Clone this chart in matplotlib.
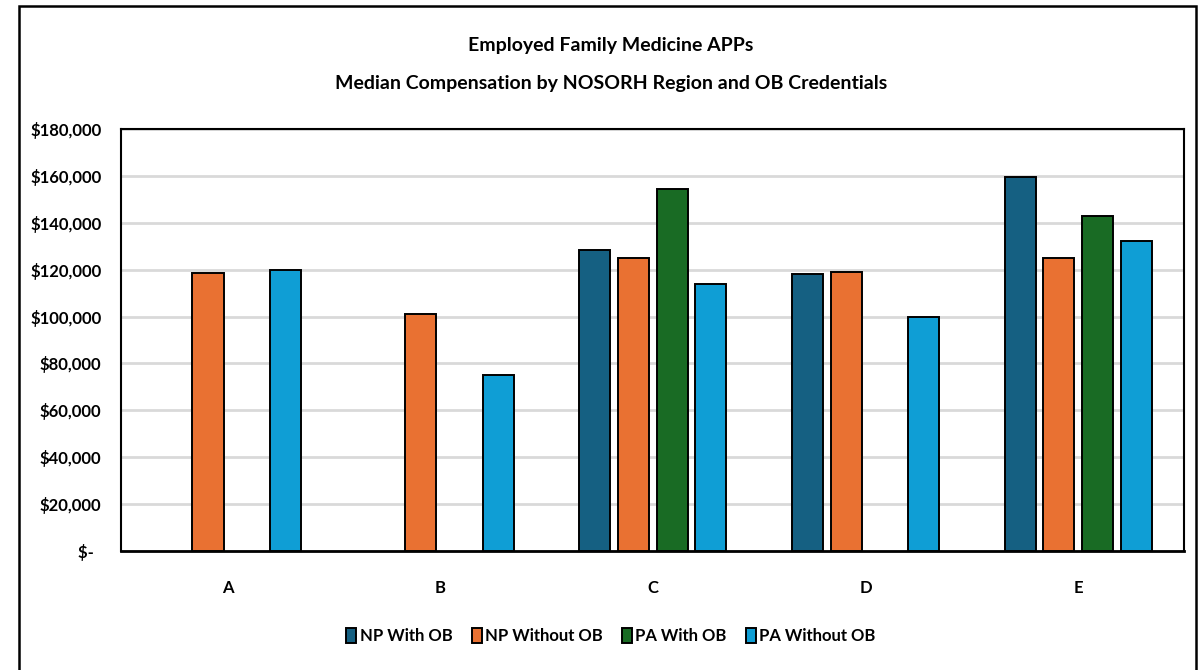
import numpy as np
import matplotlib.pyplot as plt
from matplotlib.patches import Rectangle

plt.rcParams['font.family'] = ['Lato', 'DejaVu Sans']

regions = ['A', 'B', 'C', 'D', 'E']
series = ['NP With OB', 'NP Without OB', 'PA With OB', 'PA Without OB']
np_with_ob = [np.nan, np.nan, 128500, 118000, 159500]
np_without_ob = [118500, 101000, 125000, 119000, 125000]
pa_with_ob = [np.nan, np.nan, 154500, np.nan, 143000]
pa_without_ob = [120000, 75000, 114000, 100000, 132000]
colors = ['#156082', '#E97132', '#196B24', '#0F9ED5']

yticks = [0, 20000, 40000, 60000, 80000, 100000, 120000, 140000, 160000, 180000]
ytick_labels = ['$-  '] + ['${:,}'.format(v) for v in yticks[1:]]

fig = plt.figure(figsize=(12.04, 6.70), dpi=100)
ax = fig.add_axes([0.1005, 0.1776, 0.8833, 0.630])

# outer chart border
fig.patches.append(Rectangle((0.0158, -0.05), 0.9776, 1.041, transform=fig.transFigure,
                             fill=False, edgecolor='black', linewidth=1.8))

x = np.arange(len(regions))
width = 0.146
step = 0.182
data = [np_with_ob, np_without_ob, pa_with_ob, pa_without_ob]
for i, (vals, name, c) in enumerate(zip(data, series, colors)):
    ax.bar(x + (i - 1.5) * step, vals, width, color=c, edgecolor='black',
           linewidth=1.4, label=name, zorder=3)

ax.set_xlim(-0.5, 4.5)
ax.set_ylim(0, 180000)
ax.set_yticks(yticks)
ax.set_yticklabels(ytick_labels, fontsize=12, fontweight='bold')
ax.set_xticks(x)
ax.set_xticklabels(regions, fontsize=12, fontweight='bold')
ax.tick_params(axis='both', length=0)
ax.tick_params(axis='x', pad=21)
ax.tick_params(axis='y', pad=14)
ax.yaxis.grid(True, color='#d9d9d9', linewidth=2, zorder=0)
for s in ax.spines.values():
    s.set_linewidth(1.5)
    s.set_color('black')
ax.spines['bottom'].set_linewidth(2)

fig.text(0.5075, 0.932, 'Employed Family Medicine APPs', ha='center', va='center',
         fontsize=14, fontweight='bold')
fig.text(0.5075, 0.876, 'Median Compensation by NOSORH Region and OB Credentials',
         ha='center', va='center', fontsize=14, fontweight='bold')

leg = fig.legend(loc='center', bbox_to_anchor=(0.5075, 0.051), ncol=4, frameon=False,
                 prop={'size': 12, 'weight': 'bold'}, handlelength=0.6,
                 handleheight=1.0, handletextpad=0.2, columnspacing=1.15)

fig.savefig('out.png', dpi=100)
